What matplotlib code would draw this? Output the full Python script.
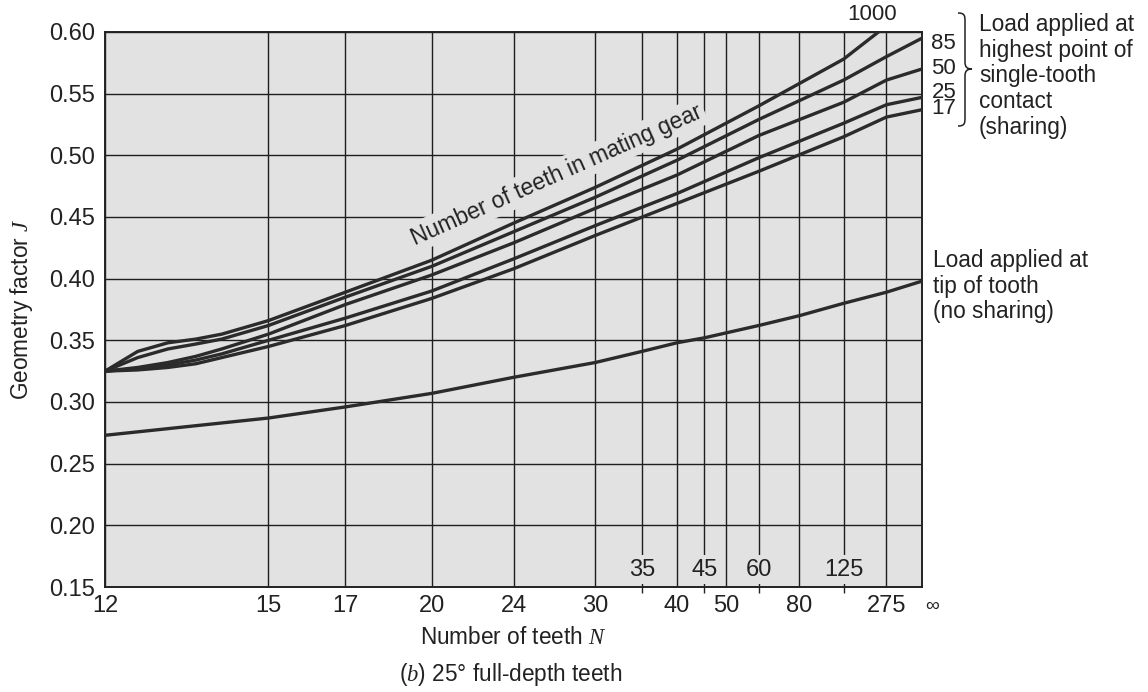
import numpy as np
import matplotlib
matplotlib.use("Agg")
import matplotlib.pyplot as plt
import matplotlib.transforms as mtransforms
from matplotlib.path import Path
from matplotlib.patches import PathPatch

plt.rcParams["font.family"] = ["Liberation Sans", "DejaVu Sans"]
plt.rcParams["mathtext.fontset"] = "custom"
plt.rcParams["mathtext.rm"] = "Liberation Sans"
plt.rcParams["mathtext.it"] = "Liberation Serif:italic"

INF = 1e9  # stands in for N = infinity on the 1/N axis

# load at highest point of single-tooth contact, one curve per mating gear
n_share = [12, 12.5, 13, 13.5, 14, 15, 17, 20, 24, 30, 40, 60, 125, 275, INF]
j_1000 = [0.325, 0.341, 0.348, 0.351, 0.355, 0.366, 0.389, 0.415, 0.445,
          0.474, 0.505, 0.540, 0.578, 0.605]
j_85 = [0.325, 0.336, 0.343, 0.347, 0.351, 0.362, 0.385, 0.410, 0.438,
        0.466, 0.496, 0.529, 0.561, 0.580, 0.595]
j_50 = [0.325, 0.328, 0.332, 0.337, 0.343, 0.355, 0.379, 0.403, 0.429,
        0.457, 0.484, 0.516, 0.543, 0.561, 0.570]
j_25 = [0.325, 0.327, 0.330, 0.334, 0.339, 0.350, 0.368, 0.390, 0.416,
        0.443, 0.469, 0.498, 0.526, 0.541, 0.547]
j_17 = [0.325, 0.326, 0.328, 0.331, 0.336, 0.345, 0.362, 0.384, 0.408,
        0.435, 0.461, 0.487, 0.515, 0.531, 0.537]
mating = ["1000", "85", "50", "25", "17"]

# load at tip of tooth (no sharing)
n_tip = [12, 15, 17, 20, 24, 30, 35, 40, 45, 50, 60, 80, 125, 275, INF]
j_tip = [0.273, 0.287, 0.296, 0.307, 0.320, 0.332, 0.341, 0.348, 0.352,
         0.356, 0.362, 0.370, 0.380, 0.389, 0.398]

outer_ticks = [12, 15, 17, 20, 24, 30, 40, 50, 80, 275, INF]
outer_labels = ["12", "15", "17", "20", "24", "30", "40", "50", "80", "275", "\u221e"]
inner_ticks = [35, 45, 60, 125]
y_ticks = [0.15, 0.20, 0.25, 0.30, 0.35, 0.40, 0.45, 0.50, 0.55, 0.60]


def fwd(n):
    with np.errstate(divide="ignore"):
        return -1.0 / np.asarray(n, dtype=float)


def inv(u):
    with np.errstate(divide="ignore"):
        return -1.0 / np.asarray(u, dtype=float)


INK = "#222222"
fig = plt.figure(figsize=(11.48, 6.92), dpi=100)
ax = fig.add_axes([105 / 1148, 1 - 587 / 692, 817 / 1148, 555 / 692])
ax.set_facecolor("#e2e2e2")
ax.set_xscale("function", functions=(fwd, inv))
ax.set_xlim(12, INF)
ax.set_ylim(0.15, 0.60)

curve_kw = dict(color="#2b2b2b", lw=2.4, solid_capstyle="butt", zorder=3)
for j in [j_1000, j_85, j_50, j_25, j_17]:
    ax.plot(n_share[:len(j)], j, **curve_kw)
ax.plot(n_tip, j_tip, **curve_kw)

ax.set_xticks(outer_ticks)
ax.set_xticklabels(outer_labels)
ax.set_xticks(inner_ticks, minor=True)
ax.set_yticks(y_ticks)
ax.set_yticklabels([f"{v:.2f}" for v in y_ticks])
ax.tick_params(axis="both", which="major", length=0, labelsize=17,
               colors=INK, pad=7)
ax.tick_params(axis="x", which="major", pad=6)
ax.tick_params(axis="x", which="minor", length=4, width=1.0, direction="out",
               colors=INK)
ax.grid(True, which="both", color="#1e1e1e", lw=1.0, zorder=1)
ax.set_axisbelow(True)
for sp in ax.spines.values():
    sp.set_color(INK)
    sp.set_linewidth(1.4)

# shift the infinity label a little right of the edge, as in the print
lab = ax.get_xticklabels()[-1]
lab.set_fontsize(14)
lab.set_transform(lab.get_transform()
                  + mtransforms.ScaledTranslation(0.10, -0.03, fig.dpi_scale_trans))

bg = dict(boxstyle="square,pad=0.15", fc="#e2e2e2", ec="none")
trans_in = mtransforms.blended_transform_factory(ax.transData, ax.transAxes)
for n in inner_ticks:
    ax.text(n, 0.031, str(n), transform=trans_in, ha="center", va="center",
            fontsize=17, color=INK, bbox=bg, zorder=2)

ax.text(26.8, 0.484, "Number of teeth in mating gear", rotation=24,
        rotation_mode="anchor", ha="center", va="center", fontsize=16.5,
        color=INK, bbox=bg, zorder=2)

# mating gear labels at the right-hand ends
ax.text(196, 0.6145, mating[0], ha="center", va="center", fontsize=16,
        color=INK, clip_on=False)
trans_r = mtransforms.blended_transform_factory(ax.transAxes, ax.transData)
ax.text(1.0115, 0.5905, mating[1], transform=trans_r, ha="left", va="center",
        fontsize=16, color=INK)
ax.text(1.0115, 0.570, mating[2], transform=trans_r, ha="left", va="center",
        fontsize=16, color=INK)
ax.text(1.0115, 0.5445, mating[3] + "\n" + mating[4], transform=trans_r,
        ha="left", va="center", fontsize=16, color=INK, linespacing=0.72)

fig.text(979 / 1148, 1 - 13 / 692,
         "Load applied at\nhighest point of\nsingle-tooth\ncontact\n(sharing)",
         ha="left", va="top", fontsize=16.3, color=INK, linespacing=1.15)
fig.text(933 / 1148, 1 - 249 / 692,
         "Load applied at\ntip of tooth\n(no sharing)",
         ha="left", va="top", fontsize=16.3, color=INK, linespacing=1.15)

# curly brace grouping the sharing labels
x0, x1, x2 = 958, 965, 972
yt, ym, yb = 13, 69, 126
pts = [(x0, yt), (x1, yt), (x1, yt + 3), (x1, yt + 9),
       (x1, ym - 7), (x1, ym - 2), (x1 + 2, ym), (x2, ym),
       (x1 + 2, ym), (x1, ym + 2), (x1, ym + 7),
       (x1, yb - 9), (x1, yb - 3), (x1, yb), (x0, yb)]
codes = [Path.MOVETO, Path.CURVE4, Path.CURVE4, Path.CURVE4,
         Path.LINETO, Path.CURVE4, Path.CURVE4, Path.CURVE4,
         Path.CURVE4, Path.CURVE4, Path.CURVE4,
         Path.LINETO, Path.CURVE4, Path.CURVE4, Path.CURVE4]
verts = [(px / 1148, 1 - py / 692) for px, py in pts]
fig.patches.append(PathPatch(Path(verts, codes), fill=False, lw=1.1,
                             ec=INK, transform=fig.transFigure))

ax.set_xlabel("Number of teeth $\\it{N}$", fontsize=16.3, color=INK,
              labelpad=6)
ax.set_ylabel("Geometry factor $\\it{J}$", fontsize=16.3, color=INK,
              labelpad=10)
fig.text(511 / 1148, 1 - 675 / 692, "($\\it{b}$) 25\u00b0 full-depth teeth",
         ha="center", va="center", fontsize=16.3, color=INK)

fig.savefig("out.png", dpi=100)
